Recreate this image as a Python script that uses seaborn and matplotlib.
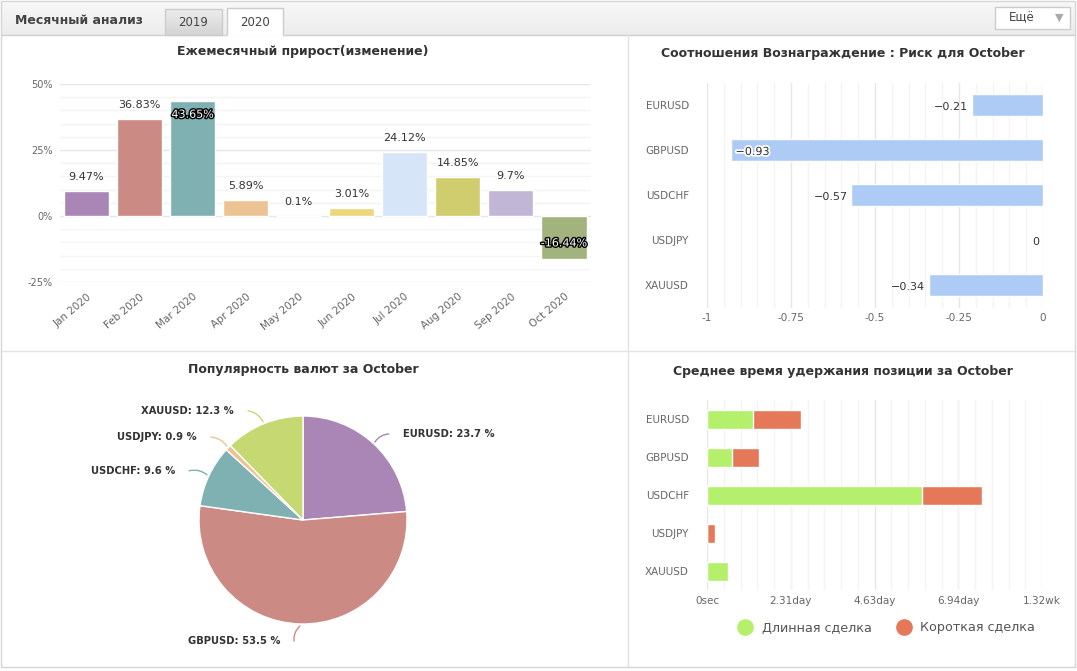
import numpy as np
import matplotlib
matplotlib.use("Agg")
import matplotlib.pyplot as plt
import matplotlib.patheffects as pe
from matplotlib.patches import Rectangle
from matplotlib.lines import Line2D
from matplotlib.ticker import MultipleLocator, FixedLocator
import seaborn as sns

#################################################################
# Data
#################################################################
months = ["Jan 2020", "Feb 2020", "Mar 2020", "Apr 2020", "May 2020",
          "Jun 2020", "Jul 2020", "Aug 2020", "Sep 2020", "Oct 2020"]
monthly_growth = [9.47, 36.83, 43.65, 5.89, 0.1, 3.01, 24.12, 14.85, 9.7, -16.44]
month_colors = ["#a986b5", "#cc8a84", "#7fb1b2", "#ecc393", "#e3a0a0",
                "#ecd77a", "#d6e5f8", "#cfcd6e", "#c2b6d6", "#a2b37e"]

pairs = ["EURUSD", "GBPUSD", "USDCHF", "USDJPY", "XAUUSD"]
reward_risk = [-0.21, -0.93, -0.57, 0, -0.34]

pie_share = [23.7, 53.5, 9.6, 0.9, 12.3]
pie_colors = ["#a986b5", "#cc8a84", "#7fb1b2", "#ecc393", "#c5d872"]

# holding time in days
hold_long = [1.27, 0.69, 5.93, 0, 0.58]
hold_short = [1.32, 0.74, 1.68, 0.22, 0]
hold_ticks = [0, 2.31, 4.63, 6.94, 9.26]
hold_tick_labels = ["0sec", "2.31day", "4.63day", "6.94day", "1.32wk"]

#################################################################
# Figure setup
#################################################################
sns.set_style("white")
plt.rcParams["font.family"] = ["DejaVu Sans"]

W, H = 1077, 671
fig = plt.figure(figsize=(W / 100, H / 100), dpi=100)

TICK = "#666666"
TEXT = "#333333"
GRID_MAJ = "#e6e6e6"
GRID_MIN = "#f4f4f4"


def px_axes(x0, y0, x1, y1, **kw):
    return fig.add_axes([x0 / W, 1 - y1 / H, (x1 - x0) / W, (y1 - y0) / H], **kw)


# background layer in pixel coordinates
bg = fig.add_axes([0, 0, 1, 1], zorder=-5)
bg.set_xlim(0, W)
bg.set_ylim(H, 0)
bg.axis("off")

grad = np.linspace(0, 1, 50).reshape(-1, 1)
bg.imshow(grad, extent=(1, 1075, 35, 1), cmap=matplotlib.colors.LinearSegmentedColormap.from_list(
    "hdr", ["#f8f8f8", "#ececec"]), aspect="auto", zorder=0)
bg.add_patch(Rectangle((1, 1), 1074, 666, fill=False, ec="#d6d6d6", lw=1, zorder=3))
bg.plot([1, 1075], [35, 35], color="#d0d0d0", lw=1, zorder=2)
bg.plot([628, 628], [35, 667], color="#e3e3e3", lw=1, zorder=2)
bg.plot([1, 1075], [351, 351], color="#e3e3e3", lw=1, zorder=2)

# tabs
bg.imshow(grad, extent=(165, 222, 35, 9), cmap=matplotlib.colors.LinearSegmentedColormap.from_list(
    "tab", ["#ececec", "#d4d4d4"]), aspect="auto", zorder=1)
bg.add_patch(Rectangle((165, 9), 57, 26, fill=False, ec="#cccccc", lw=1, zorder=2))
bg.add_patch(Rectangle((227, 8), 56, 28, fc="white", ec="#cccccc", lw=1, zorder=2))
bg.plot([228, 282], [35.5, 35.5], color="white", lw=2, zorder=3)
bg.text(15, 20, "Месячный анализ", fontsize=9, fontweight="bold", color="#444444", va="center")
bg.text(193, 22, "2019", fontsize=8.5, color="#444444", va="center", ha="center")
bg.text(255, 22, "2020", fontsize=8.5, color="#444444", va="center", ha="center")
bg.add_patch(Rectangle((995, 7), 75, 22, fc="white", ec="#cccccc", lw=1, zorder=2))
bg.text(1022, 18, "Ещё", fontsize=8.5, color="#444444", va="center", ha="center", zorder=3)
bg.text(1059, 18, "▼", fontsize=8, color="#aaaaaa", va="center", ha="center", zorder=3)

# panel titles
bg.text(303, 52, "Ежемесячный прирост(изменение)", fontsize=9, fontweight="bold",
        color=TEXT, ha="center", va="center")
bg.text(843, 53, "Соотношения Вознаграждение : Риск для October", fontsize=9,
        fontweight="bold", color=TEXT, ha="center", va="center")
bg.text(303, 370, "Популярность валют за October", fontsize=9, fontweight="bold",
        color=TEXT, ha="center", va="center")
bg.text(843, 371, "Среднее время удержания позиции за October", fontsize=9,
        fontweight="bold", color=TEXT, ha="center", va="center")

#################################################################
# Monthly growth
#################################################################
ax1 = px_axes(60, 84, 590.5, 282)
sns.barplot(x=months, y=monthly_growth, hue=months, order=months, hue_order=months,
            palette=month_colors, saturation=1, width=0.85, legend=False, ax=ax1,
            zorder=2)
ax1.set_xlim(-0.5, len(months) - 0.5)
ax1.set_ylim(-25, 50)
ax1.set_yticks([-25, 0, 25, 50])
ax1.set_yticklabels(["-25%", "0%", "25%", "50%"])
ax1.yaxis.set_minor_locator(MultipleLocator(5))
ax1.grid(which="major", axis="y", color=GRID_MAJ, lw=1)
ax1.grid(which="minor", axis="y", color=GRID_MIN, lw=1)
ax1.set_axisbelow(True)
ax1.tick_params(which="both", length=0, labelsize=7, labelcolor=TICK)
ax1.tick_params(axis="y", pad=5)
ax1.tick_params(axis="x", pad=7)
for lab in ax1.get_xticklabels():
    lab.set_rotation(40)
    lab.set_ha("right")
    lab.set_rotation_mode("anchor")
    lab.set_fontsize(7.5)
ax1.set_xlabel("")
ax1.set_ylabel("")
sns.despine(ax=ax1, left=True, bottom=True)

for i, v in enumerate(monthly_growth):
    txt = f"{v:g}%"
    if v > 40 or v < 0:
        off = -14 if v > 0 else 16
        ax1.annotate(txt, (i, v), xytext=(0, off), textcoords="offset pixels",
                     ha="center", va="center", fontsize=8, color="white", zorder=5,
                     path_effects=[pe.withStroke(linewidth=2, foreground="black")])
    else:
        ax1.annotate(txt, (i, v), xytext=(0, 9), textcoords="offset pixels",
                     ha="center", va="bottom", fontsize=8, color=TEXT, zorder=5)

#################################################################
# Reward : risk
#################################################################
ax2 = px_axes(707, 82.5, 1043, 307.5)
sns.barplot(x=reward_risk, y=pairs, orient="h", color="#aecbf5", saturation=1,
            width=0.5, ax=ax2, zorder=2)
ax2.set_xlim(-1, 0)
ax2.set_ylim(len(pairs) - 0.5, -0.5)
ax2.set_xticks([-1, -0.75, -0.5, -0.25, 0])
ax2.set_xticklabels(["-1", "-0.75", "-0.5", "-0.25", "0"])
ax2.xaxis.set_minor_locator(MultipleLocator(0.05))
ax2.grid(which="major", axis="x", color=GRID_MAJ, lw=1)
ax2.grid(which="minor", axis="x", color=GRID_MIN, lw=1)
ax2.grid(False, axis="y")
ax2.set_axisbelow(True)
ax2.tick_params(which="both", length=0, labelsize=7.5, labelcolor=TICK)
ax2.tick_params(axis="y", pad=13)
ax2.tick_params(axis="x", pad=4)
ax2.set_xlabel("")
ax2.set_ylabel("")
sns.despine(ax=ax2, left=True, bottom=True)

for i, v in enumerate(reward_risk):
    txt = f"{v:g}".replace("-", "\u2212")
    if v < -0.9:
        ax2.annotate(txt, (v, i), xytext=(5, -2), textcoords="offset pixels",
                     ha="left", va="center", fontsize=8, color=TEXT, zorder=5,
                     path_effects=[pe.withStroke(linewidth=2.5, foreground="white")])
    else:
        ax2.annotate(txt, (v, i), xytext=(-4, -2), textcoords="offset pixels",
                     ha="right", va="center", fontsize=8, color=TEXT, zorder=5)

#################################################################
# Currency popularity (pie)
#################################################################
ax3 = px_axes(199, 416, 407, 624)
wedges, _ = ax3.pie(pie_share, colors=pie_colors, startangle=90, counterclock=False,
                    wedgeprops=dict(edgecolor="white", linewidth=1))
ax3.set_xlim(-1, 1)
ax3.set_ylim(-1, 1)

# label offsets (pixels) from the wedge edge
pie_offsets = [(28, 8), (-20, -15), (-32, 4), (-30, 9), (-29, 11)]
for w, name, share, (dx, dy) in zip(wedges, pairs, pie_share, pie_offsets):
    ang = np.deg2rad((w.theta1 + w.theta2) / 2)
    anchor = (1.02 * np.cos(ang), 1.02 * np.sin(ang))
    side = 1 if dx > 0 else -1
    ax3.annotate(f"{name}: {share:g} %", anchor, xytext=(dx, dy),
                 textcoords="offset pixels", ha="left" if dx > 0 else "right",
                 va="center", fontsize=7.2, fontweight="bold", color=TEXT,
                 annotation_clip=False)
    ax3.annotate("", xy=anchor, xytext=(dx - 14 * side, dy), textcoords="offset pixels",
                 annotation_clip=False,
                 arrowprops=dict(arrowstyle="-", color=w.get_facecolor(), lw=1,
                                 shrinkA=0, shrinkB=0,
                                 connectionstyle=f"arc3,rad={0.25 * side}"))

#################################################################
# Average holding time
#################################################################
hold_total = [a + b for a, b in zip(hold_long, hold_short)]
ax4 = px_axes(707, 400, 1042, 590)
sns.barplot(x=hold_total, y=pairs, orient="h", color="#e6785a", saturation=1,
            width=0.5, ax=ax4, zorder=2)
sns.barplot(x=hold_long, y=pairs, orient="h", color="#b5f06c", saturation=1,
            width=0.5, ax=ax4, zorder=3, edgecolor="white", linewidth=1)
ax4.set_xlim(0, hold_ticks[-1])
ax4.set_ylim(len(pairs) - 0.5, -0.5)
ax4.set_xticks(hold_ticks)
ax4.set_xticklabels(hold_tick_labels)
ax4.xaxis.set_minor_locator(FixedLocator(np.linspace(0, hold_ticks[-1], 21)))
ax4.grid(which="major", axis="x", color=GRID_MAJ, lw=1)
ax4.grid(which="minor", axis="x", color=GRID_MIN, lw=1)
ax4.grid(False, axis="y")
ax4.set_axisbelow(True)
ax4.tick_params(which="both", length=0, labelsize=7.5, labelcolor=TICK)
ax4.tick_params(axis="y", pad=13)
ax4.tick_params(axis="x", pad=4)
ax4.set_xlabel("")
ax4.set_ylabel("")
sns.despine(ax=ax4, left=True, bottom=True)

handles = [Line2D([], [], marker="o", ls="", markersize=11, color="#b5f06c"),
           Line2D([], [], marker="o", ls="", markersize=11, color="#e6785a")]
fig.legend(handles, ["Длинная сделка", "Короткая сделка"], loc="center",
           bbox_to_anchor=(884 / W, 1 - 628 / H), ncol=2, frameon=False,
           fontsize=9.2, labelcolor="#555555", handletextpad=0.3, columnspacing=1.5)

fig.savefig("out.png", dpi=100)
